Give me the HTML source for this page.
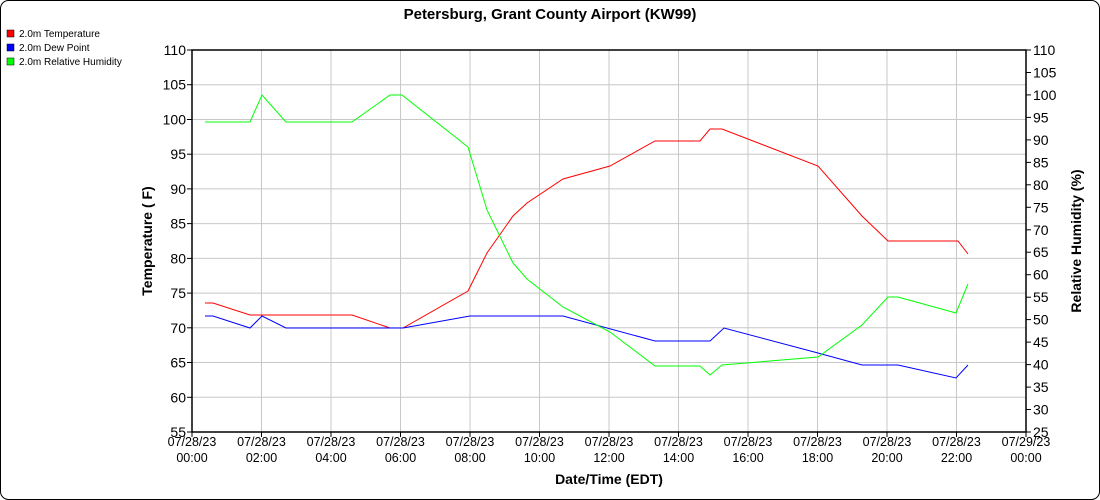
<!DOCTYPE html><html><head><style>body{margin:0;background:#fff}svg{display:block;font-family:"Liberation Sans",sans-serif}</style></head><body>
<svg width="1100" height="500" xmlns="http://www.w3.org/2000/svg">
<rect x="0.5" y="0.5" width="1099" height="499" rx="8" fill="#fff" stroke="#000"/>
<text x="550" y="19" text-anchor="middle" font-size="15" font-weight="bold">Petersburg, Grant County Airport (KW99)</text>
<g font-size="10">
<rect x="7" y="30" width="7" height="7" fill="#f00" stroke="#000" stroke-width="0.5"/><text x="19" y="37">2.0m Temperature</text>
<rect x="7" y="44" width="7" height="7" fill="#00f" stroke="#000" stroke-width="0.5"/><text x="19" y="51">2.0m Dew Point</text>
<rect x="7" y="58" width="7" height="7" fill="#0f0" stroke="#000" stroke-width="0.5"/><text x="19" y="65">2.0m Relative Humidity</text>
</g>
<g stroke="#c8c8c8">
<line x1="192" x2="1026" y1="84.7" y2="84.7"/><line x1="192" x2="1026" y1="119.5" y2="119.5"/><line x1="192" x2="1026" y1="154.2" y2="154.2"/><line x1="192" x2="1026" y1="188.9" y2="188.9"/><line x1="192" x2="1026" y1="223.6" y2="223.6"/><line x1="192" x2="1026" y1="258.4" y2="258.4"/><line x1="192" x2="1026" y1="293.1" y2="293.1"/><line x1="192" x2="1026" y1="327.8" y2="327.8"/><line x1="192" x2="1026" y1="362.5" y2="362.5"/><line x1="192" x2="1026" y1="397.3" y2="397.3"/>
<line y1="50" y2="432" x1="261.5" x2="261.5"/><line y1="50" y2="432" x1="331" x2="331"/><line y1="50" y2="432" x1="400.5" x2="400.5"/><line y1="50" y2="432" x1="470" x2="470"/><line y1="50" y2="432" x1="539.5" x2="539.5"/><line y1="50" y2="432" x1="609" x2="609"/><line y1="50" y2="432" x1="678.5" x2="678.5"/><line y1="50" y2="432" x1="748" x2="748"/><line y1="50" y2="432" x1="817.5" x2="817.5"/><line y1="50" y2="432" x1="887" x2="887"/><line y1="50" y2="432" x1="956.5" x2="956.5"/>
</g>
<g stroke="#000">
<line x1="187" x2="192" y1="50" y2="50"/><line x1="187" x2="192" y1="84.7" y2="84.7"/><line x1="187" x2="192" y1="119.5" y2="119.5"/><line x1="187" x2="192" y1="154.2" y2="154.2"/><line x1="187" x2="192" y1="188.9" y2="188.9"/><line x1="187" x2="192" y1="223.6" y2="223.6"/><line x1="187" x2="192" y1="258.4" y2="258.4"/><line x1="187" x2="192" y1="293.1" y2="293.1"/><line x1="187" x2="192" y1="327.8" y2="327.8"/><line x1="187" x2="192" y1="362.5" y2="362.5"/><line x1="187" x2="192" y1="397.3" y2="397.3"/><line x1="187" x2="192" y1="432" y2="432"/>
<line x1="1026" x2="1031" y1="50" y2="50"/><line x1="1026" x2="1031" y1="72.5" y2="72.5"/><line x1="1026" x2="1031" y1="94.9" y2="94.9"/><line x1="1026" x2="1031" y1="117.4" y2="117.4"/><line x1="1026" x2="1031" y1="139.9" y2="139.9"/><line x1="1026" x2="1031" y1="162.4" y2="162.4"/><line x1="1026" x2="1031" y1="184.8" y2="184.8"/><line x1="1026" x2="1031" y1="207.3" y2="207.3"/><line x1="1026" x2="1031" y1="229.8" y2="229.8"/><line x1="1026" x2="1031" y1="252.2" y2="252.2"/><line x1="1026" x2="1031" y1="274.7" y2="274.7"/><line x1="1026" x2="1031" y1="297.2" y2="297.2"/><line x1="1026" x2="1031" y1="319.6" y2="319.6"/><line x1="1026" x2="1031" y1="342.1" y2="342.1"/><line x1="1026" x2="1031" y1="364.6" y2="364.6"/><line x1="1026" x2="1031" y1="387.1" y2="387.1"/><line x1="1026" x2="1031" y1="409.5" y2="409.5"/><line x1="1026" x2="1031" y1="432" y2="432"/>
<line y1="432" y2="437" x1="192" x2="192"/><line y1="432" y2="437" x1="261.5" x2="261.5"/><line y1="432" y2="437" x1="331" x2="331"/><line y1="432" y2="437" x1="400.5" x2="400.5"/><line y1="432" y2="437" x1="470" x2="470"/><line y1="432" y2="437" x1="539.5" x2="539.5"/><line y1="432" y2="437" x1="609" x2="609"/><line y1="432" y2="437" x1="678.5" x2="678.5"/><line y1="432" y2="437" x1="748" x2="748"/><line y1="432" y2="437" x1="817.5" x2="817.5"/><line y1="432" y2="437" x1="887" x2="887"/><line y1="432" y2="437" x1="956.5" x2="956.5"/><line y1="432" y2="437" x1="1026" x2="1026"/>
</g>
<g font-size="14" text-anchor="end">
<text x="186" y="55">110</text><text x="186" y="89.7">105</text><text x="186" y="124.5">100</text><text x="186" y="159.2">95</text><text x="186" y="193.9">90</text><text x="186" y="228.6">85</text><text x="186" y="263.4">80</text><text x="186" y="298.1">75</text><text x="186" y="332.8">70</text><text x="186" y="367.5">65</text><text x="186" y="402.3">60</text><text x="186" y="437">55</text>
</g>
<g font-size="14">
<text x="1033" y="55">110</text><text x="1033" y="77.5">105</text><text x="1033" y="99.9">100</text><text x="1033" y="122.4">95</text><text x="1033" y="144.9">90</text><text x="1033" y="167.4">85</text><text x="1033" y="189.8">80</text><text x="1033" y="212.3">75</text><text x="1033" y="234.8">70</text><text x="1033" y="257.2">65</text><text x="1033" y="279.7">60</text><text x="1033" y="302.2">55</text><text x="1033" y="324.6">50</text><text x="1033" y="347.1">45</text><text x="1033" y="369.6">40</text><text x="1033" y="392.1">35</text><text x="1033" y="414.5">30</text><text x="1033" y="437">25</text>
</g>
<g font-size="12.5" text-anchor="middle">
<text x="192" y="446">07/28/23</text><text x="192" y="462">00:00</text>
<text x="261.5" y="446">07/28/23</text><text x="261.5" y="462">02:00</text>
<text x="331" y="446">07/28/23</text><text x="331" y="462">04:00</text>
<text x="400.5" y="446">07/28/23</text><text x="400.5" y="462">06:00</text>
<text x="470" y="446">07/28/23</text><text x="470" y="462">08:00</text>
<text x="539.5" y="446">07/28/23</text><text x="539.5" y="462">10:00</text>
<text x="609" y="446">07/28/23</text><text x="609" y="462">12:00</text>
<text x="678.5" y="446">07/28/23</text><text x="678.5" y="462">14:00</text>
<text x="748" y="446">07/28/23</text><text x="748" y="462">16:00</text>
<text x="817.5" y="446">07/28/23</text><text x="817.5" y="462">18:00</text>
<text x="887" y="446">07/28/23</text><text x="887" y="462">20:00</text>
<text x="956.5" y="446">07/28/23</text><text x="956.5" y="462">22:00</text>
<text x="1026" y="446">07/29/23</text><text x="1026" y="462">00:00</text>
</g>
<rect x="192" y="50" width="834" height="382" fill="none" stroke="#000" stroke-width="1.5"/>
<polyline fill="none" stroke="#f00" points="205,303 213,303 250,315 262,315 286,315 352,315 390,328 403,328 468,291 487,253 513,216 527,203 563,179 610,166 655,141 700,141 710,129 722,129 818,166 862,216 888,241 958,241 968,254"/>
<polyline fill="none" stroke="#00f" points="205,316 213,316 250,328 262,316 286,328 403,328 470,316 563,316 655,341 710,341 724,328 818,353 862,365 898,365 956,378 968,365"/>
<polyline fill="none" stroke="#0f0" points="205,122 250,122 262,95 286,122 352,122 390,95 402,95 468,147 487,210 513,263 527,279 563,307 610,332 655,366 700,366 710,375 722,365 818,357 862,325 888,297 898,297 956,313 968,284"/>
<text x="609" y="484" text-anchor="middle" font-size="14" font-weight="bold">Date/Time (EDT)</text>
<text transform="translate(152,241) rotate(-90)" text-anchor="middle" font-size="14" font-weight="bold">Temperature ( F)</text>
<text transform="translate(1081,241) rotate(-90)" text-anchor="middle" font-size="14" font-weight="bold">Relative Humidity (%)</text>
</svg></body></html>
